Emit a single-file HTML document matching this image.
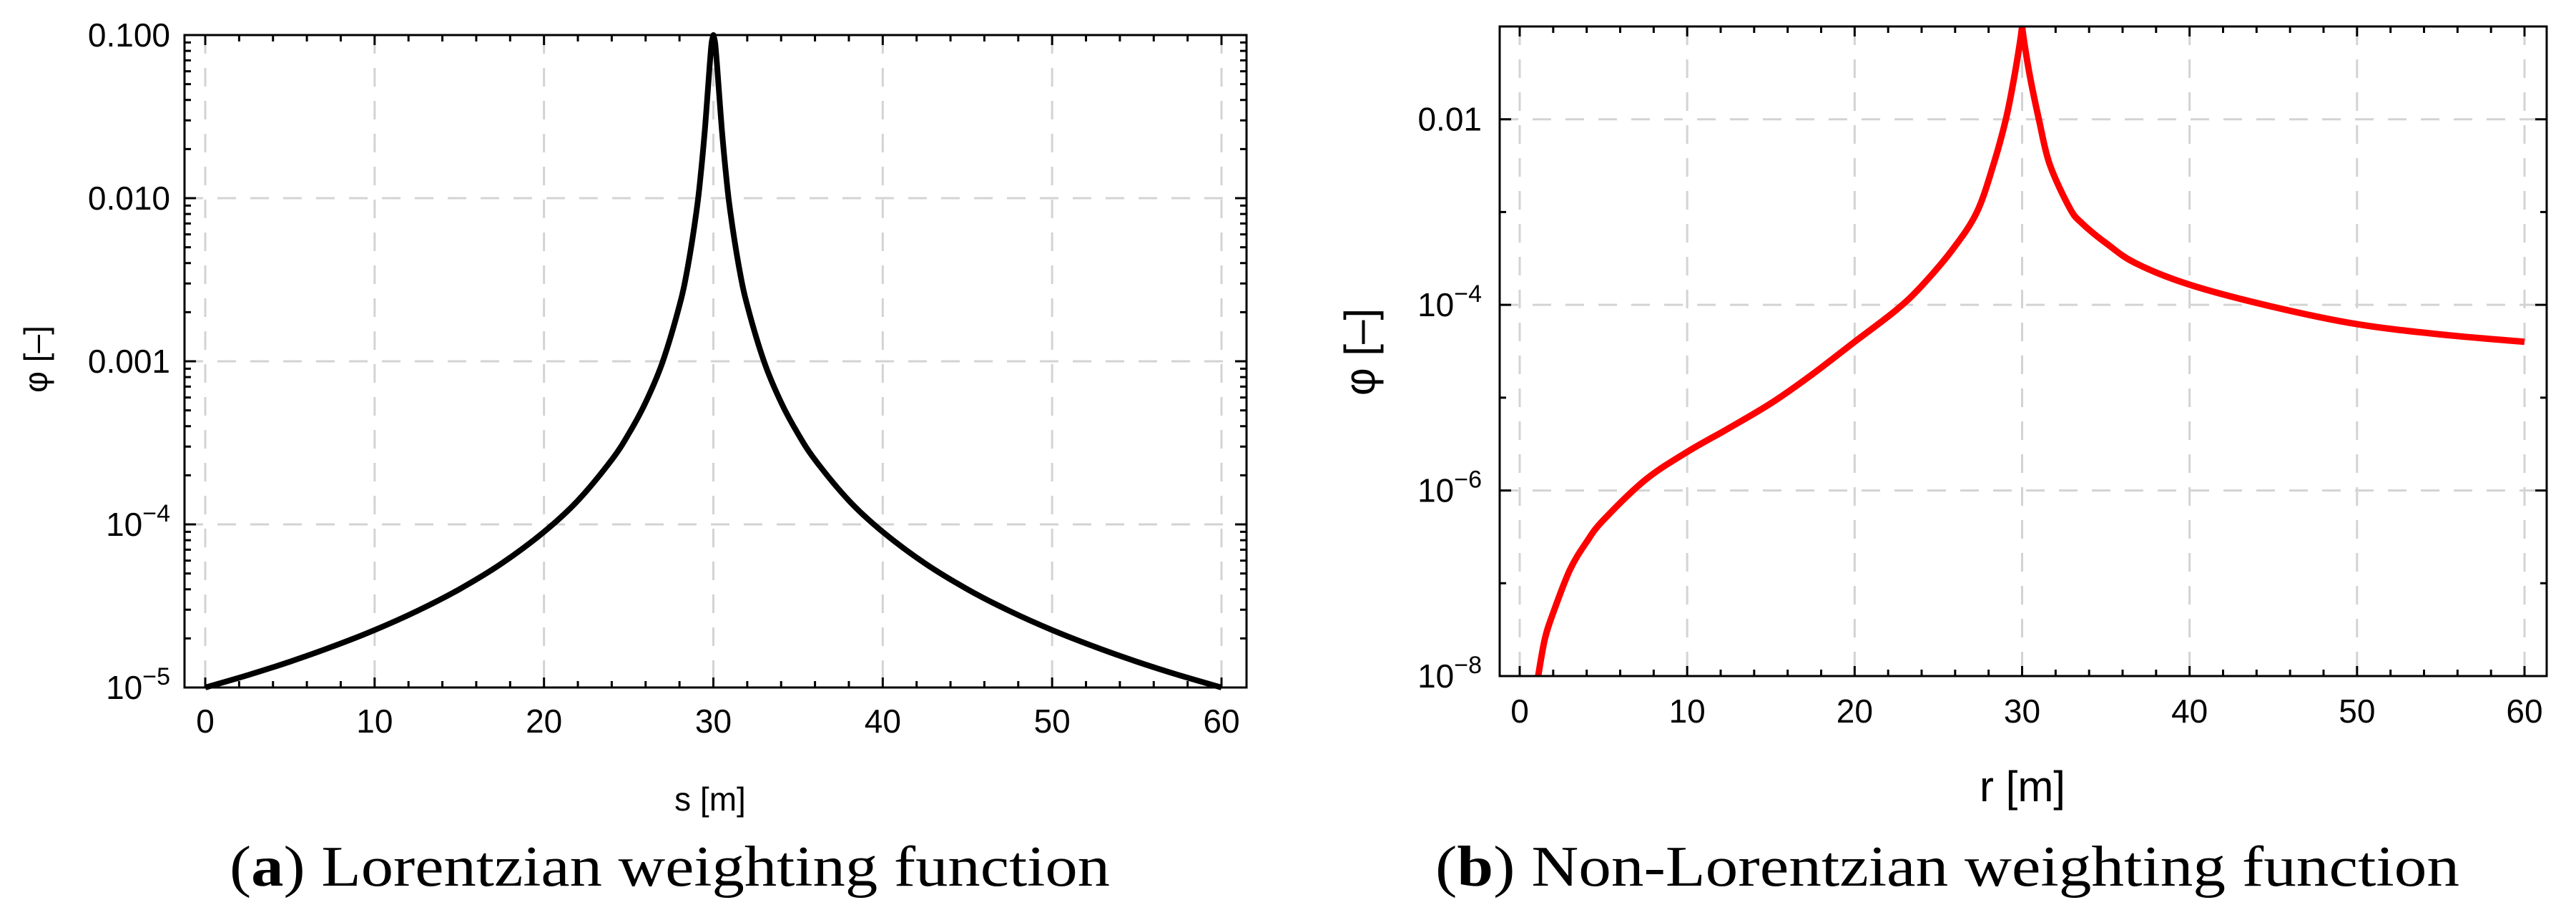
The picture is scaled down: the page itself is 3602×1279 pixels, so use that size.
<!DOCTYPE html>
<html><head><meta charset="utf-8"><style>
html,body{margin:0;padding:0;background:#fff;}
svg{display:block;}
text{font-family:"Liberation Sans",sans-serif;}
.cap{font-family:"Liberation Serif",serif;}
</style></head><body>
<svg id="fig" width="3602" height="1279" viewBox="0 0 3602 1279" xmlns="http://www.w3.org/2000/svg">
<defs><clipPath id="clipb"><rect x="2097" y="37" width="1464" height="908"/></clipPath></defs>
<g id="pa"></g>
<g id="pb"></g>
<text class="cap" x="321" y="1238" font-size="80" textLength="1231" lengthAdjust="spacingAndGlyphs">(<tspan font-weight="bold">a</tspan>) Lorentzian weighting function</text>
<text class="cap" x="2007" y="1238" font-size="80" textLength="1432" lengthAdjust="spacingAndGlyphs">(<tspan font-weight="bold">b</tspan>) Non-Lorentzian weighting function</text>
</svg>
<script>
// Plot (a) data
const aS = [0,2.5,5,7.5,10,12.5,15,17.5,20,22,24,25,26,27,28,28.5,29,29.25,29.5,29.7,29.8,29.9,30,30.1,30.2,30.3,30.5,30.75,31,31.5,32,33,34,35,36,38,40,42.5,45,47.5,50,52.5,55,57.5,60];
const aPhi = [1e-5,1.19e-5,1.44e-5,1.78e-5,2.25e-5,2.94e-5,4.0e-5,5.76e-5,9.0e-5,1.40e-4,2.49e-4,3.59e-4,5.6e-4,9.9e-4,2.2e-3,3.85e-3,8.26e-3,0.0138,0.0265,0.05,0.0692,0.09,0.1,0.09,0.0692,0.05,0.0265,0.0138,8.26e-3,3.85e-3,2.2e-3,9.9e-4,5.6e-4,3.59e-4,2.49e-4,1.40e-4,9.0e-5,5.76e-5,4.0e-5,2.94e-5,2.25e-5,1.78e-5,1.44e-5,1.19e-5,1e-5];
const aXTicks = [0,10,20,30,40,50,60];
const aYTicks = [-5,-4,-3,-2,-1];
const aYLabels = ["10|−5","10|−4","0.001","0.010","0.100"];
// Plot (b) data
const bR = [1.1,1.5,2,3,4,5,7.5,10,12.5,15,17.5,20,22.45,24,25.87,27.3,28.3,29.03,29.5,29.86,30,30.14,30.5,31,31.64,32.85,33.6,35.1,36.8,40,45,50,55,60];
const bPhi = [1e-8,2.5e-8,4.8e-8,1.4e-7,2.8e-7,4.8e-7,1.3e-6,2.6e-6,4.7e-6,8.7e-6,1.8e-5,4e-5,8.7e-5,1.6e-4,4e-4,1e-3,3.3e-3,0.01,0.0266,0.065,0.1,0.065,0.027,0.01,3.3e-3,1.1e-3,7.5e-4,4.5e-4,2.8e-4,1.65e-4,9.5e-5,6.2e-5,4.8e-5,4e-5];
const bXTicks = [0,10,20,30,40,50,60];
const bYTicks = [-8,-6,-4,-2];
const bYLabels = ["10|−8","10|−6","10|−4","0.01"];

const NS="http://www.w3.org/2000/svg";
function mk(tag,attrs,parent){const e=document.createElementNS(NS,tag);for(const k in attrs)e.setAttribute(k,attrs[k]);parent.appendChild(e);return e;}

function spline(pts){
  let d='M'+pts[0][0].toFixed(1)+','+pts[0][1].toFixed(1);
  for(let i=0;i<pts.length-1;i++){
    const p0=pts[Math.max(i-1,0)],p1=pts[i],p2=pts[i+1],p3=pts[Math.min(i+2,pts.length-1)];
    const c1=[p1[0]+(p2[0]-p0[0])/6,p1[1]+(p2[1]-p0[1])/6];
    const c2=[p2[0]-(p3[0]-p1[0])/6,p2[1]-(p3[1]-p1[1])/6];
    d+=`C${c1[0].toFixed(1)},${c1[1].toFixed(1)} ${c2[0].toFixed(1)},${c2[1].toFixed(1)} ${p2[0].toFixed(1)},${p2[1].toFixed(1)}`;
  }
  return d;
}

function plot(g,o){
  const sx=v=>o.x0+(v-o.xmin)/(o.xmax-o.xmin)*(o.x1-o.x0);
  const sy=v=>o.yb-(Math.log10(v)-o.lmin)/(o.lmax-o.lmin)*(o.yb-o.yt);
  const syl=l=>o.yb-(l-o.lmin)/(o.lmax-o.lmin)*(o.yb-o.yt);
  o.xt.forEach(v=>{const l=mk('line',{x1:sx(v),x2:sx(v),y1:o.yt,y2:o.yb,stroke:'#d3d3d3','stroke-width':3,'stroke-dasharray':'26 20'},g);
    
    });
  o.yt2.forEach(v=>{if(v<=o.lmin||v>=o.lmax)return;const l=mk('line',{x1:o.fl,x2:o.fr,y1:syl(v),y2:syl(v),stroke:'#d3d3d3','stroke-width':3,'stroke-dasharray':'26 20'},g);
    
    });
  for(let v=o.xmin;v<=o.xmax;v+=2){const major=v%10===0;const L=major?14:9;
    const t=mk('path',{d:`M${sx(v)},${o.yb}v${-L}M${sx(v)},${o.yt}v${L}`,stroke:'#000','stroke-width':3},g);
    
    }
  for(let d=Math.floor(o.lmin);d<o.lmax;d++){
    const steps=o.minor?[1,2,3,4,5,6,7,8,9]:[1];
    steps.forEach(m=>{const l=d+Math.log10(m);if(l<o.lmin-1e-9||l>o.lmax+1e-9)return;
      const major=o.minor?(m===1):(o.yt2.indexOf(d)>=0);const L=major?16:9;
      const t=mk('path',{d:`M${o.fl},${syl(l)}h${L}M${o.fr},${syl(l)}h${-L}`,stroke:'#000','stroke-width':3},g);
      
      });
  }
  const pts=o.xs.map((x,i)=>[sx(x),sy(o.ys[i])]);
  let im=0;o.ys.forEach((v,i)=>{if(v>o.ys[im])im=i;});
  const d=spline(pts.slice(0,im+1))+spline(pts.slice(im)).replace(/^M[^C]*/,'');
  const c=mk('path',{d:d,fill:'none',stroke:o.color,'stroke-width':o.lw,'stroke-linejoin':'round','stroke-linecap':'butt'},g);
  if(o.clip)c.setAttribute('clip-path',o.clip);
  
  
  const f=mk('rect',{x:o.fl,y:o.yt,width:o.fr-o.fl,height:o.yb-o.yt,fill:'none',stroke:'#000','stroke-width':3},g);
  
  
  o.xt.forEach(v=>{const t=mk('text',{x:sx(v),y:o.xly,'font-size':46,'text-anchor':'middle'},g);t.textContent=v;
    
    });
  o.yt2.forEach((v,i)=>{const t=mk('text',{x:o.ylx,y:syl(v)+16,'font-size':46,'text-anchor':'end'},g);
    const s=o.yl[i].split('|');t.textContent=s[0];
    if(s[1]){const ts=mk('tspan',{'font-size':34,dy:-20},t);ts.textContent=s[1];}
    
    });
  const xt=mk('text',{x:o.xtx,y:o.xty,'font-size':o.tfs,'text-anchor':'middle'},g);xt.textContent=o.xtitle;
  
  
  const yt=mk('text',{x:0,y:0,'font-size':o.tfs,'text-anchor':'middle',transform:`translate(${o.ytx},${o.yty}) rotate(-90)`},g);yt.textContent='φ [–]';
  
  
}
plot(document.getElementById('pa'),{x0:287,x1:1708,xmin:0,xmax:60,fl:258,fr:1743,yt:49,yb:961,lmin:-5,lmax:-1,
  xt:aXTicks,yt2:aYTicks,yl:aYLabels,minor:true,xs:aS,ys:aPhi,color:'#000',lw:8,xly:1024,ylx:238,
  xtitle:'s [m]',xtx:993,xty:1133,tfs:46,ytx:66,yty:502});
plot(document.getElementById('pb'),{x0:2125,x1:3530,xmin:0,xmax:60,fl:2097,fr:3561,yt:37,yb:945,lmin:-8,lmax:-1,
  xt:bXTicks,yt2:bYTicks,yl:bYLabels,minor:false,xs:bR,ys:bPhi,color:'#ff0000',lw:9,xly:1010,ylx:2072,
  xtitle:'r [m]',xtx:2828,xty:1120,tfs:60,ytx:1922,yty:492,clip:'url(#clipb)'});
</script>
</body></html>
